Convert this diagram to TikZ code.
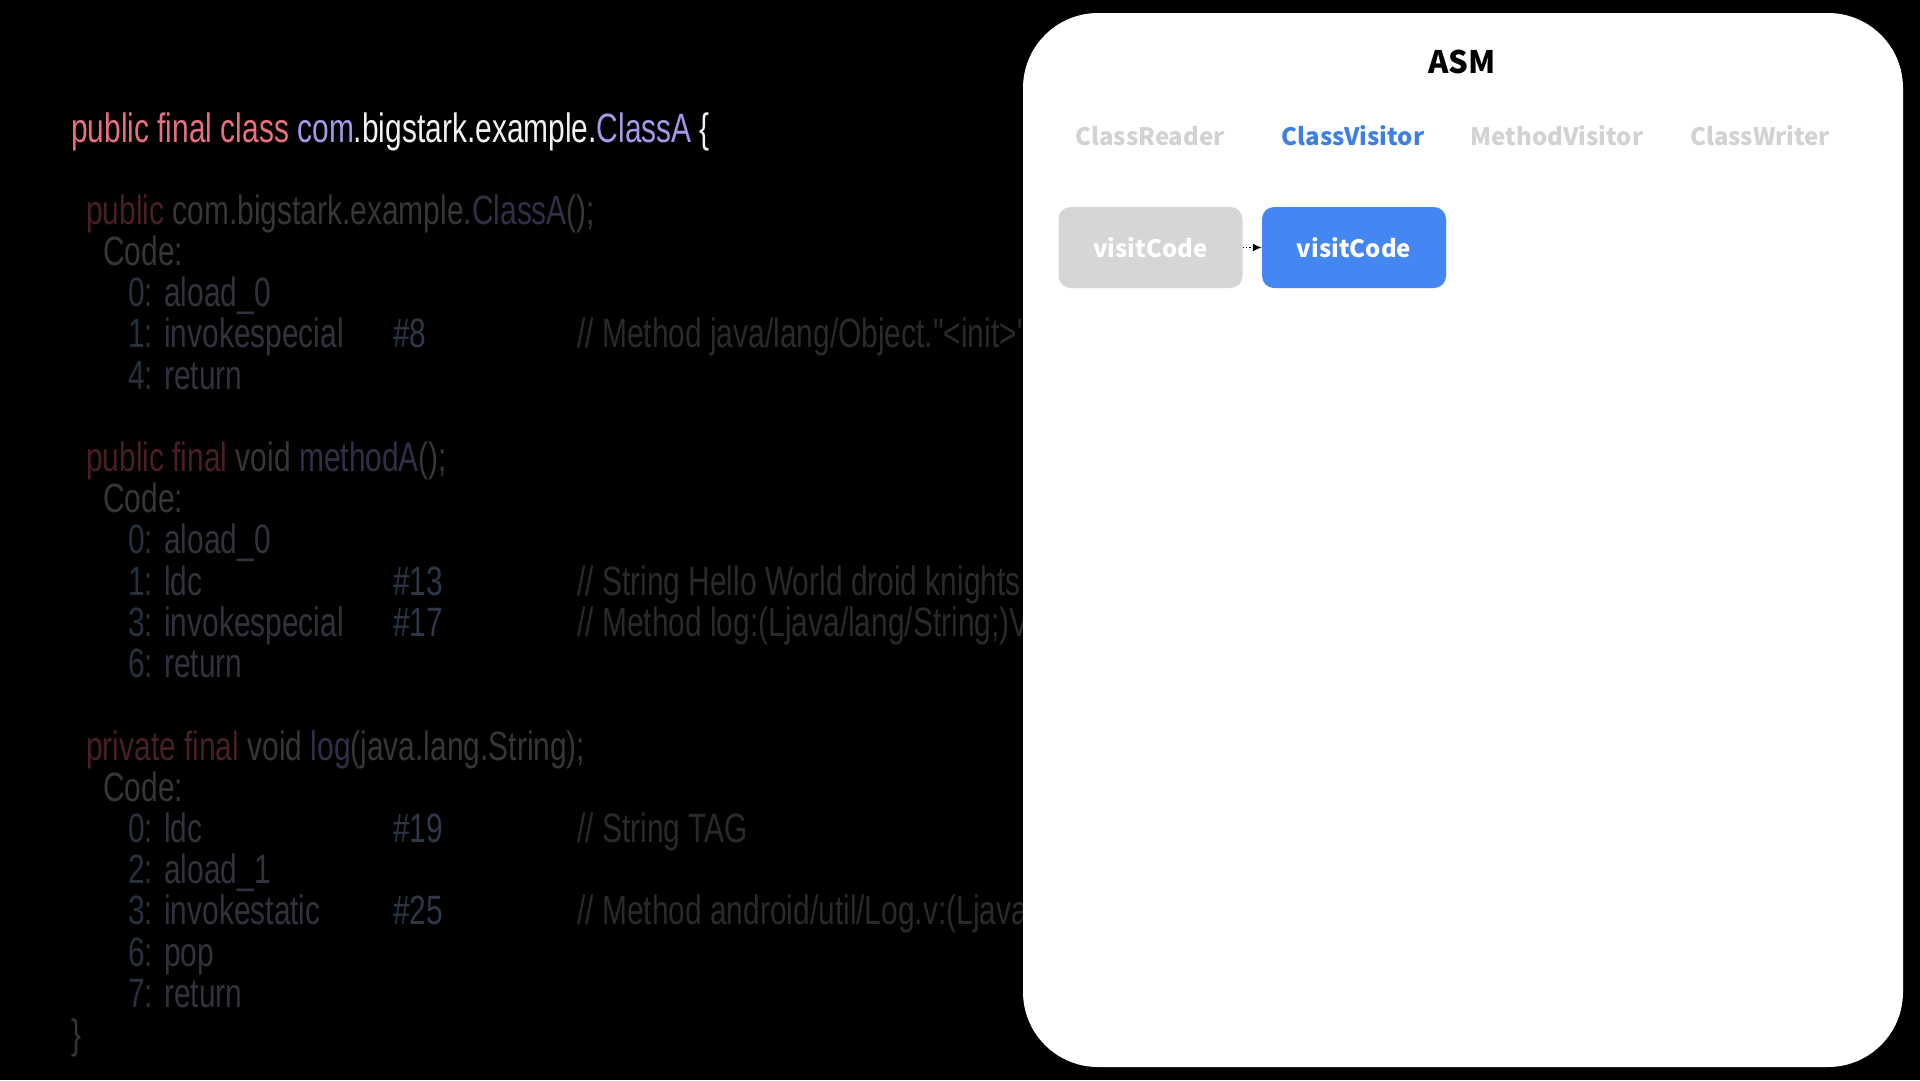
\documentclass[tikz,border=0pt]{standalone}
\usepackage{fontspec}
\usepackage{xcolor}
\usetikzlibrary{arrows.meta}
\setmainfont{Liberation Sans}
\newfontfamily\codefont{Liberation Sans}[FakeStretch=0.73]
\newfontfamily\uifont{Noto Sans CJK SC}
\definecolor{kwhi}{HTML}{E8707E}
\definecolor{clhi}{HTML}{A797E6}
\definecolor{txhi}{HTML}{F2F2F2}
\definecolor{kwlo}{HTML}{481F26}
\definecolor{txlo}{HTML}{363636}
\definecolor{cllo}{HTML}{332E46}
\definecolor{numlo}{HTML}{27303D}
\definecolor{oplo}{HTML}{34303C}
\definecolor{reflo}{HTML}{2D3746}
\definecolor{cmlo}{HTML}{2A2A2A}
\definecolor{tabgray}{HTML}{D2D2D2}
\definecolor{tabblue}{HTML}{3F7FE3}
\definecolor{boxgray}{HTML}{D6D6D6}
\definecolor{boxblue}{HTML}{4486F2}
\begin{document}
\begin{tikzpicture}[x=1pt,y=-1pt,
  code/.style={anchor=base west,inner sep=0pt,font=\codefont\fontsize{41}{41}\selectfont},
  ref/.style={code,text=reflo},
  cmt/.style={code,text=cmlo},
  tab/.style={anchor=base,inner sep=0pt,font=\uifont\bfseries\fontsize{24}{24}\selectfont},
  vbox/.style={minimum width=184pt,minimum height=81pt,rounded corners=12pt,inner sep=0pt,text=white,font=\uifont\bfseries\fontsize{24}{24}\selectfont}]
\useasboundingbox (0,0) rectangle (1920,1080);
\fill[black] (0,0) rectangle (1920,1080);

% ---- code listing ----
\node[code] (l1) at (71,142) {\textcolor{kwhi}{public final class} \textcolor{clhi}{com}\textcolor{txhi}{.bigstark.example.}\textcolor{clhi}{ClassA}~\textcolor{txhi}{\{}};

\node[code] (l2) at (86,224) {\textcolor{kwlo}{public} \textcolor{txlo}{com.bigstark.example.}\textcolor{cllo}{ClassA}\textcolor{txlo}{();}};
\node[code,text=txlo] (l3) at (103,265) {Code:};
\node[code] (l4) at (128,306) {\textcolor{numlo}{0:} \textcolor{oplo}{aload\_0}};
\node[code] (l5) at (128,347) {\textcolor{numlo}{1:} \textcolor{oplo}{invokespecial}};
\node[ref] (r5) at (393,347) {\#8};
\node[cmt] (m5) at (577,347) {// Method java/lang/Object."<init>"};
\node[code] (l6) at (128,389) {\textcolor{numlo}{4:} \textcolor{oplo}{return}};

\node[code] (l7) at (86,471) {\textcolor{kwlo}{public final} \textcolor{txlo}{void} \textcolor{cllo}{methodA}\textcolor{txlo}{();}};
\node[code,text=txlo] (l8) at (103,512) {Code:};
\node[code] (l9) at (128,553) {\textcolor{numlo}{0:} \textcolor{oplo}{aload\_0}};
\node[code] (l10) at (128,595) {\textcolor{numlo}{1:} \textcolor{oplo}{ldc}};
\node[ref] (r10) at (393,595) {\#13};
\node[cmt] (m10) at (577,595) {// String Hello World droid knights};
\node[code] (l11) at (128,636) {\textcolor{numlo}{3:} \textcolor{oplo}{invokespecial}};
\node[ref] (r11) at (393,636) {\#17};
\node[cmt] (m11) at (577,636) {// Method log:(Ljava/lang/String;)V};
\node[code] (l12) at (128,677) {\textcolor{numlo}{6:} \textcolor{oplo}{return}};

\node[code] (l13) at (86,760) {\textcolor{kwlo}{private final} \textcolor{txlo}{void} \textcolor{cllo}{log}\textcolor{txlo}{(java.lang.String);}};
\node[code,text=txlo] (l14) at (103,801) {Code:};
\node[code] (l15) at (128,842) {\textcolor{numlo}{0:} \textcolor{oplo}{ldc}};
\node[ref] (r15) at (393,842) {\#19};
\node[cmt] (m15) at (577,842) {// String TAG};
\node[code] (l16) at (128,883) {\textcolor{numlo}{2:} \textcolor{oplo}{aload\_1}};
\node[code] (l17) at (128,924) {\textcolor{numlo}{3:} \textcolor{oplo}{invokestatic}};
\node[ref] (r17) at (393,924) {\#25};
\node[cmt] (m17) at (577,924) {// Method android/util/Log.v:(Ljava};
\node[code] (l18) at (128,966) {\textcolor{numlo}{6:} \textcolor{oplo}{pop}};
\node[code] (l19) at (128,1007) {\textcolor{numlo}{7:} \textcolor{oplo}{return}};
\node[code,text=txlo] (l20) at (71,1048) {\}};

% ---- ASM panel ----
\fill[white,rounded corners=75pt] (1023,13) rectangle (1903,1067);
\node[anchor=base,inner sep=0pt,font=\uifont\bfseries\fontsize{31}{31}\selectfont] (asm) at (1462,73) {ASM};
\node[tab,text=tabgray] (t1) at (1150,145) {ClassReader};
\node[tab,text=tabblue] (t2) at (1353,145) {ClassVisitor};
\node[tab,text=tabgray] (t3) at (1557,145) {MethodVisitor};
\node[tab,text=tabgray] (t4) at (1760,145) {ClassWriter};

\node[vbox,fill=boxgray] (b1) at (1150.5,247.5) {visitCode};
\node[vbox,fill=boxblue] (b2) at (1354,247.5) {visitCode};
\draw[dotted,line width=1.3pt,-{Latex[length=9pt,width=8pt]}] (b1.east) -- (b2.west);
\end{tikzpicture}
\end{document}
